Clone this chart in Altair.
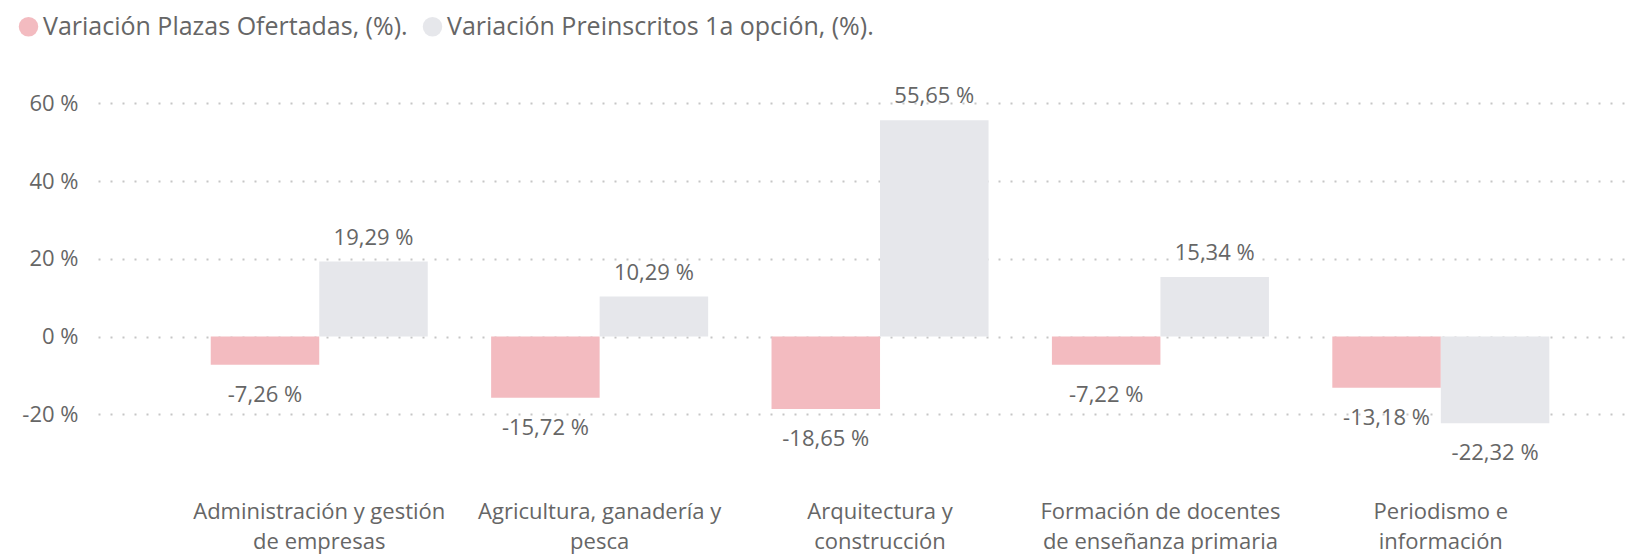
import altair as alt
import pandas as pd

categorias = [
    "Administración y gestión|de empresas",
    "Agricultura, ganadería y|pesca",
    "Arquitectura y|construcción",
    "Formación de docentes|de enseñanza primaria",
    "Periodismo e|información",
]
series = ["Variación Plazas Ofertadas, (%).", "Variación Preinscritos 1a opción, (%)."]
plazas = [-7.26, -15.72, -18.65, -7.22, -13.18]
preinscritos = [19.29, 10.29, 55.65, 15.34, -22.32]
y_ticks = [-20, 0, 20, 40, 60]
colores = ["#F3BBC0", "#E6E7EB"]

rows = []
for i, c in enumerate(categorias):
    for s, vals in zip(series, [plazas, preinscritos]):
        v = vals[i]
        rows.append({
            "cat": c,
            "serie": s,
            "valor": v,
            "etiqueta": f"{v:.2f}".replace(".", ",") + " %",
        })
df = pd.DataFrame(rows)

FONT = "Open Sans"
TXT = "#666666"
FS = 22

x_enc = alt.X(
    "cat:N",
    sort=categorias,
    scale=alt.Scale(paddingInner=0.226, paddingOuter=0.3413, align=0.589),
    axis=alt.Axis(
        title=None,
        labelAngle=0,
        domain=False,
        ticks=False,
        grid=False,
        labelExpr="split(datum.label, '|')",
        labelFont=FONT,
        labelFontSize=FS,
        labelColor=TXT,
        labelLineHeight=30,
        labelPadding=9,
        labelBaseline="top",
        labelLimit=600,
    ),
)
xoff = alt.XOffset("serie:N", sort=series, scale=alt.Scale(paddingInner=0, paddingOuter=0))
y_enc = alt.Y(
    "valor:Q",
    scale=alt.Scale(domain=[-40, 65], nice=False, zero=True),
    axis=alt.Axis(
        title=None,
        values=y_ticks,
        domain=False,
        ticks=False,
        labelExpr="datum.value + ' %'",
        labelFont=FONT,
        labelFontSize=FS,
        labelColor=TXT,
        labelPadding=20,
        gridColor="#C6C6C6",
        gridDash=[2, 10],
        gridWidth=2,
    ),
)

bars = alt.Chart(df).mark_bar().encode(
    x=x_enc,
    xOffset=xoff,
    y=y_enc,
    color=alt.Color(
        "serie:N",
        sort=series,
        scale=alt.Scale(domain=series, range=colores),
        legend=alt.Legend(
            title=None,
            orient="none",
            legendX=-82,
            legendY=-70,
            direction="horizontal",
            symbolType="circle",
            symbolSize=380,
            symbolStrokeWidth=0,
            labelFont=FONT,
            labelFontSize=25,
            labelColor=TXT,
            labelOffset=2,
            columnPadding=12,
            labelLimit=800,
        ),
    ),
)

pos = alt.Chart(df).transform_filter("datum.valor >= 0").mark_text(
    baseline="middle", dy=-24, font=FONT, fontSize=FS, color=TXT
).encode(x=alt.X("cat:N", sort=categorias), xOffset=alt.XOffset("serie:N", sort=series), y="valor:Q", text="etiqueta:N")

neg = alt.Chart(df).transform_filter("datum.valor < 0").mark_text(
    baseline="middle", dy=30, font=FONT, fontSize=FS, color=TXT
).encode(x=alt.X("cat:N", sort=categorias), xOffset=alt.XOffset("serie:N", sort=series), y="valor:Q", text="etiqueta:N")

chart = alt.layer(bars, pos, neg).properties(
    width=1530,
    height=408,
    autosize=alt.AutoSizeParams(type="none"),
    padding={"left": 90, "top": 76, "right": 0, "bottom": 62},
).configure(background="white").configure_view(strokeWidth=0, stroke="transparent")

chart.save("out.html", embed_options={"renderer": "svg", "actions": False})
